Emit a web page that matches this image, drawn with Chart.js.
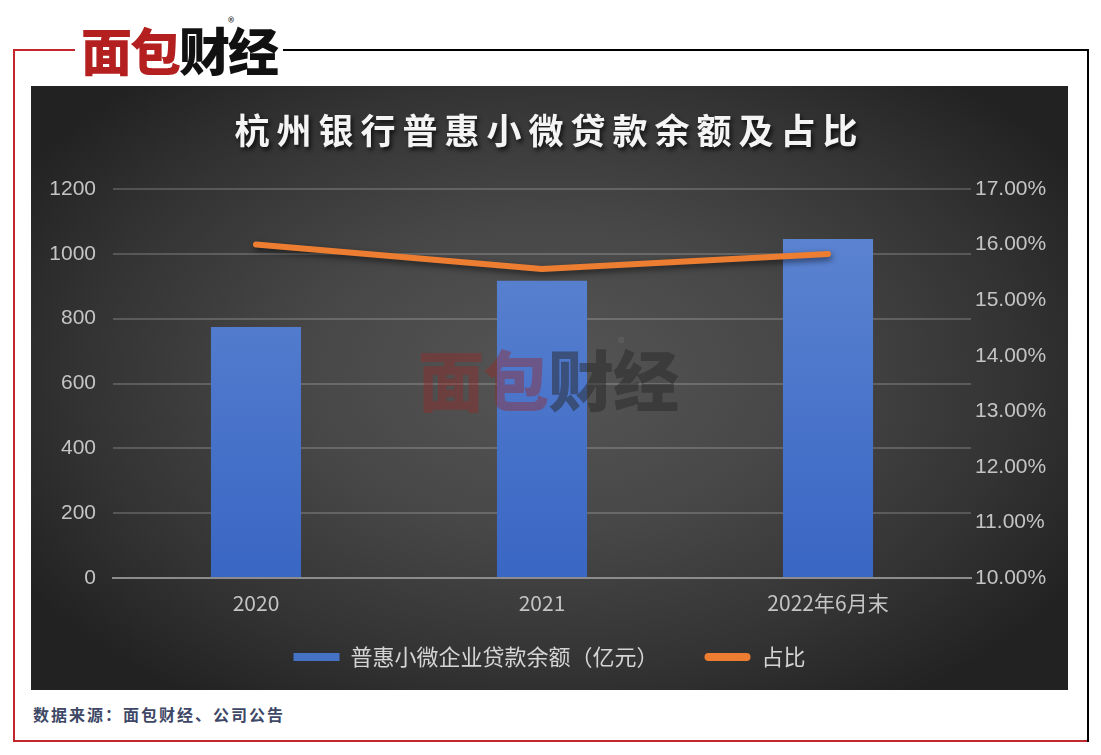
<!DOCTYPE html>
<html>
<head>
<meta charset="utf-8">
<script src="https://cdn.jsdelivr.net/npm/chart.js@4/dist/chart.umd.min.js"></script>
<style>
  html, body { margin: 0; padding: 0; background: #ffffff; }
  body { width: 1101px; height: 755px; position: relative; overflow: hidden; font-family: "Noto Sans CJK SC", sans-serif; }
  .ln { position: absolute; }
  #panel { position: absolute; left: 31px; top: 86px; width: 1037px; height: 604px;
    background: radial-gradient(ellipse 60% 65% at 50% 48%, #555555 0%, #474747 40%, #333333 75%, #222222 100%); }
  #chartWrap { position: absolute; left: 0; top: 0; width: 1037px; height: 604px; }
  #title { position: absolute; left: 0; width: 1037px; top: 21px; text-align: center; color: #f4f4f4;
    font-family: "Noto Sans CJK SC", sans-serif; font-weight: 700; font-size: 35px; letter-spacing: 7px; line-height: 44px;
    text-shadow: 2px 3px 4px rgba(0,0,0,0.75); }
  #logo { position: absolute; left: 75px; top: 8px; width: 208px; height: 80px; background: #fff; }
  .logoText { position: absolute; font-family: "Noto Sans CJK SC", sans-serif; font-weight: 900; white-space: nowrap; }
  #source { position: absolute; left: 33px; top: 702px; font-size: 16px; font-weight: 700; color: #3e4866;
    font-family: "Noto Sans CJK SC", sans-serif; letter-spacing: 2px; }
  #wm { position: absolute; left: 387px; top: 246px; pointer-events: none; }
</style>
</head>
<body>
<div class="ln" style="left:13px;top:49px;width:2px;height:693px;background:#c1272d"></div>
<div class="ln" style="left:13px;top:49px;width:62px;height:2px;background:#c1272d"></div>
<div class="ln" style="left:13px;top:740px;width:1076px;height:2px;background:#c1272d"></div>
<div class="ln" style="left:283px;top:49px;width:806px;height:2px;background:#000"></div>
<div class="ln" style="left:1087px;top:49px;width:2px;height:693px;background:#000"></div>

<div id="logo">
  <span class="logoText" style="left:6px;top:6px;font-size:51px;line-height:70px;color:#b3201f;letter-spacing:-2px">面包<span style="color:#111">财经</span></span>
  <span class="logoText" style="left:153px;top:4px;font-size:13px;font-weight:400;color:#333">®</span>
</div>

<div id="panel">
  <div id="chartWrap"><canvas id="c" width="1037" height="604"></canvas></div>
  <div id="title">杭州银行普惠小微贷款余额及占比</div>
  <div id="wm">
    <span class="logoText" style="left:0;top:0;font-size:66px;line-height:90px;color:rgba(150,40,40,0.42);letter-spacing:-1px">面包<span style="color:rgba(40,40,40,0.5)">财经</span></span>
    <span class="logoText" style="left:200px;top:0px;font-size:14px;font-weight:400;color:rgba(120,120,120,0.6)">®</span>
  </div>
</div>

<div id="source">数据来源：面包财经、公司公告</div>

<script>
const categories = ["2020", "2021", "2022年6月末"];
const loanBalance = [774, 917, 1046];
const shareRatio = [16.0, 15.56, 15.83];
const seriesNames = ["普惠小微企业贷款余额（亿元）", "占比"];

const numFont = { family: "'Liberation Sans', Arial, sans-serif", size: 21 };
const tickColor = '#c4c4c4';
const LEGEND_TOP = 514;
const LEGEND_BOX_H = 72;
const XAXIS_H = 40;

const shadowPlugin = {
  id: 'lineShadow',
  beforeDatasetDraw(chart, args) {
    if (args.index === 1) {
      const ctx = chart.ctx;
      ctx.save();
      ctx.shadowColor = 'rgba(0,0,0,0.55)';
      ctx.shadowBlur = 6;
      ctx.shadowOffsetX = 1;
      ctx.shadowOffsetY = 3;
    }
  },
  afterDatasetDraw(chart, args) {
    if (args.index === 1) chart.ctx.restore();
  }
};

const legendPlace = {
  id: 'legendPlace',
  beforeLayout(chart) {
    const lg = chart.legend;
    if (lg && !lg._fitWrapped) {
      const f = lg.fit;
      lg.fit = function () { f.call(this); this.height = LEGEND_BOX_H; };
      lg._fitWrapped = true;
    }
  },
  afterLayout(chart) {
    const lg = chart.legend;
    if (!lg) return;
    const h = lg.bottom - lg.top;
    lg.top = LEGEND_TOP;
    lg.bottom = LEGEND_TOP + h;
  }
};

new Chart(document.getElementById('c'), {
  type: 'bar',
  data: {
    labels: categories,
    datasets: [
      {
        type: 'bar',
        label: seriesNames[0],
        data: loanBalance,
        yAxisID: 'y',
        order: 2,
        categoryPercentage: 1.0,
        barPercentage: 0.315,
        backgroundColor(ctx) {
          const area = ctx.chart.chartArea;
          if (!area) return '#4a74c8';
          const g = ctx.chart.ctx.createLinearGradient(0, area.top, 0, area.bottom);
          g.addColorStop(0, '#5f87d2');
          g.addColorStop(1, '#3a66c4');
          return g;
        },
        borderWidth: 0
      },
      {
        type: 'line',
        label: seriesNames[1],
        data: shareRatio,
        yAxisID: 'y1',
        order: 1,
        borderColor: '#ed7d31',
        backgroundColor: '#ed7d31',
        borderWidth: 6,
        borderCapStyle: 'round',
        borderJoinStyle: 'round',
        tension: 0,
        pointRadius: 0,
        pointHoverRadius: 0
      }
    ]
  },
  options: {
    responsive: false,
    animation: false,
    devicePixelRatio: 1,
    layout: { padding: { top: 103, bottom: 0, left: 0, right: 0 } },
    plugins: {
      tooltip: { enabled: false },
      title: { display: false },
      legend: {
        position: 'bottom',
        labels: {
          color: '#d4d4d4',
          font: { family: "'Noto Sans CJK SC', sans-serif", size: 22 },
          boxWidth: 46,
          boxHeight: 8,
          padding: 46,
          useBorderRadius: true,
          borderRadius: 3,
          generateLabels(chart) {
            return chart.data.datasets.map((ds, i) => ({
              text: ds.label,
              fillStyle: i === 0 ? '#4472c4' : '#ed7d31',
              strokeStyle: i === 0 ? '#4472c4' : '#ed7d31',
              lineWidth: 0,
              fontColor: '#d4d4d4',
              hidden: false,
              datasetIndex: i,
              borderRadius: i === 0 ? 0 : 4
            }));
          }
        }
      }
    },
    scales: {
      x: {
        afterFit(scale) { scale.height = XAXIS_H; },
        grid: { display: false, drawTicks: false },
        border: { display: true, color: '#8c8c8c', width: 2 },
        ticks: { color: tickColor, font: { family: "'Noto Sans CJK SC', sans-serif", size: 21 }, padding: 12 }
      },
      y: {
        position: 'left',
        min: 0, max: 1200,
        afterFit(scale) { scale.width = 82; },
        grid: { color: 'rgba(255,255,255,0.18)', lineWidth: 2, drawTicks: false },
        border: { display: false },
        ticks: { stepSize: 200, color: tickColor, font: numFont, padding: 17, callback: v => String(v) }
      },
      y1: {
        position: 'right',
        min: 10, max: 17,
        afterFit(scale) { scale.width = 97; },
        grid: { display: false, drawTicks: false },
        border: { display: false },
        ticks: { stepSize: 1, color: tickColor, font: numFont, padding: 4,
          callback: v => Number(v).toFixed(2) + '%' }
      }
    }
  },
  plugins: [shadowPlugin, legendPlace]
});
</script>
</body>
</html>
